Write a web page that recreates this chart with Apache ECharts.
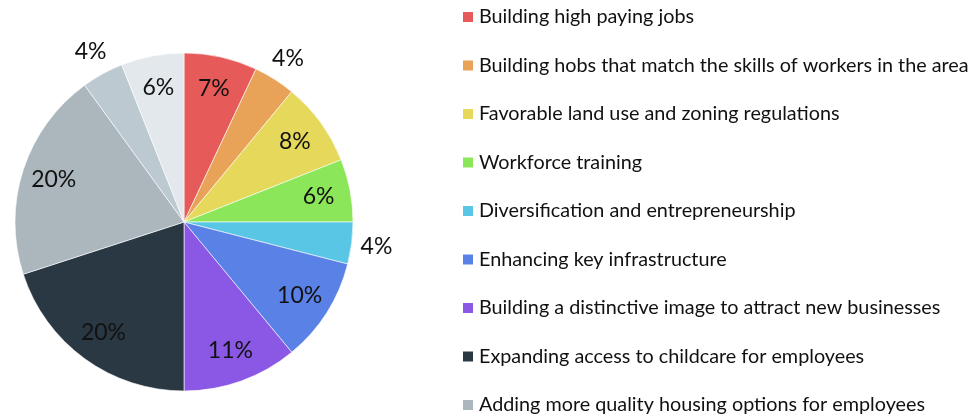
<!DOCTYPE html>
<html>
<head>
<meta charset="utf-8">
<script src="https://cdn.jsdelivr.net/npm/echarts@6/dist/echarts.min.js"></script>
<style>
html,body{margin:0;padding:0;background:#fff;}
#chart{width:978px;height:417px;}
</style>
</head>
<body>
<div id="chart"></div>
<script>
const categories = [
  "Building high paying jobs",
  "Building hobs that match the skills of workers in the area",
  "Favorable land use and zoning regulations",
  "Workforce training",
  "Diversification and entrepreneurship",
  "Enhancing key infrastructure",
  "Building a distinctive image to attract new businesses",
  "Expanding access to childcare for employees",
  "Adding more quality housing options for employees",
  "Other",
  "None of the above"
];
const values = [7, 4, 8, 6, 4, 10, 11, 20, 20, 4, 6];
const colors = ["#E65A5A", "#E8A358", "#E6D85A", "#8CE65A", "#5AC6E6", "#5A82E6", "#8A58E4", "#2A3844", "#ABB6BD", "#BCC9D0", "#E3E8EC"];

const FONT = "Lato";
const center = [184, 222];
const R = 169;
const isSmall = v => v < 5;

const mainData = categories.map((n, i) => ({ name: n, value: values[i], itemStyle: { color: colors[i] } }));
const insideData = categories.map((n, i) => ({ name: n, value: values[i], label: { show: !isSmall(values[i]) } }));
const outsideData = categories.map((n, i) => ({ name: n, value: values[i], label: { show: isSmall(values[i]) } }));

const labelStyle = {
  position: 'inside',
  formatter: p => p.value + '%',
  color: '#111',
  fontFamily: FONT,
  fontSize: 23
};

const chart = echarts.init(document.getElementById('chart'), null, { renderer: 'canvas' });
chart.setOption({
  animation: false,
  backgroundColor: '#fff',
  legend: {
    orient: 'vertical',
    left: 461,
    top: 7,
    height: 900,
    padding: 0,
    icon: 'rect',
    itemWidth: 12,
    itemHeight: 12,
    itemGap: 28.5,
    selectedMode: false,
    data: categories,
    textStyle: { fontFamily: FONT, fontSize: 19.8, color: '#111', padding: [0, 0, 0, 0] }
  },
  series: [
    {
      type: 'pie',
      center: center,
      radius: [0, R],
      startAngle: 90,
      clockwise: true,
      silent: true,
      label: { show: false },
      labelLine: { show: false },
      itemStyle: { borderColor: '#ffffff', borderWidth: 0.6 },
      data: mainData
    },
    {
      type: 'pie',
      center: center,
      radius: [99, R],
      startAngle: 90,
      clockwise: true,
      silent: true,
      itemStyle: { color: 'rgba(0,0,0,0)' },
      label: labelStyle,
      labelLine: { show: false },
      data: insideData
    },
    {
      type: 'pie',
      center: center,
      radius: [R, 213],
      startAngle: 90,
      clockwise: true,
      silent: true,
      itemStyle: { color: 'rgba(0,0,0,0)' },
      label: labelStyle,
      labelLine: { show: false },
      data: outsideData
    }
  ]
});
</script>
</body>
</html>
